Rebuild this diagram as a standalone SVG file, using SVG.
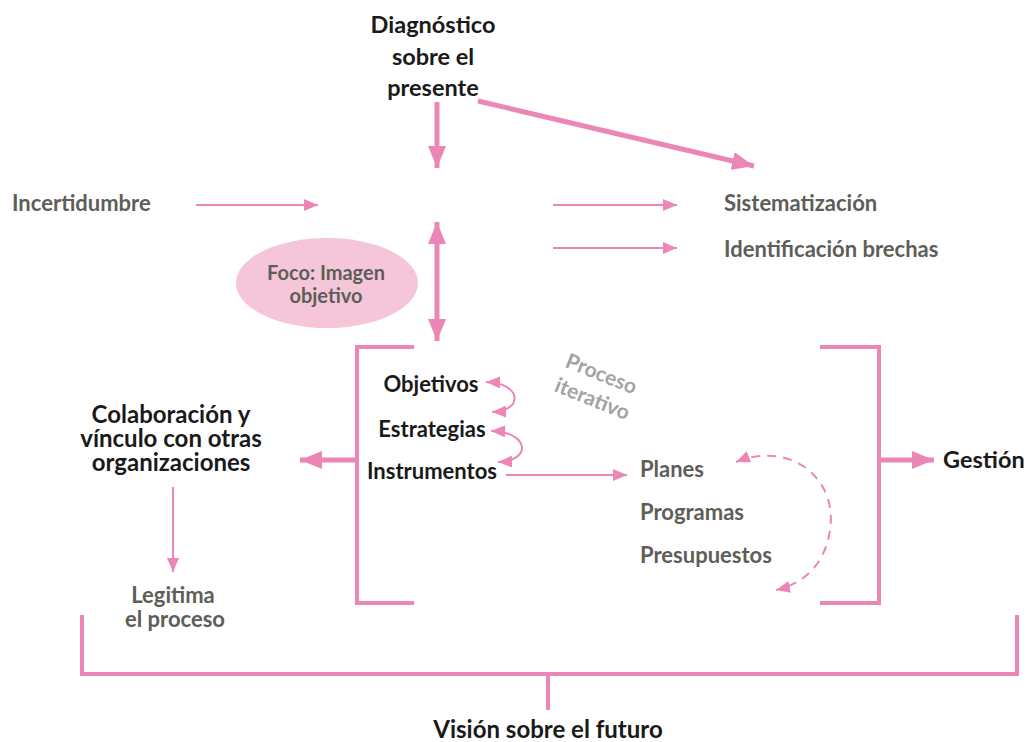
<svg xmlns="http://www.w3.org/2000/svg" width="1027" height="742" viewBox="0 0 1027 742">
  <style>
    text { font-family: Lato, "Liberation Sans", sans-serif; font-weight: bold; }
    .dark { fill: #1a1a1a; font-size: 24px; }
    .gray { fill: #5e5e58; font-size: 22px; }
    .light { fill: #a3a3a3; font-size: 21px; }
    .thin { stroke: #ec86b7; stroke-width: 2; fill: none; }
    .thick { stroke: #ec86b7; stroke-width: 5; fill: none; }
    .bracket { stroke: #ec86b7; stroke-width: 4; fill: none; }
    .dash { stroke: #ec86b7; stroke-width: 2; fill: none; stroke-dasharray: 9 7; }
  </style>
  <defs>
    <marker id="headThin" viewBox="0 0 14 12" refX="14" refY="6" markerWidth="14" markerHeight="12" markerUnits="userSpaceOnUse" orient="auto-start-reverse">
      <path d="M0,0 L14,6 L0,12 z" fill="#ec86b7"/>
    </marker>
    <marker id="headThick" viewBox="0 0 22 18" refX="22" refY="9" markerWidth="22" markerHeight="18" markerUnits="userSpaceOnUse" orient="auto-start-reverse">
      <path d="M0,0 L22,9 L0,18 z" fill="#ec86b7"/>
    </marker>
  </defs>

  <!-- connectors -->
  <g id="connectors">
    <line class="thick" x1="437" y1="102" x2="437" y2="168" marker-end="url(#headThick)"/>
    <line class="thick" x1="478" y1="101" x2="754" y2="166" marker-end="url(#headThick)"/>
    <line class="thin" x1="196" y1="205" x2="318" y2="205" marker-end="url(#headThin)"/>
    <line class="thin" x1="553" y1="205" x2="677" y2="205" marker-end="url(#headThin)"/>
    <line class="thin" x1="553" y1="248" x2="677" y2="248" marker-end="url(#headThin)"/>
    <line class="thick" x1="437" y1="222" x2="437" y2="341" marker-start="url(#headThick)" marker-end="url(#headThick)"/>
    <line class="thick" x1="357" y1="460" x2="300" y2="460" marker-end="url(#headThick)"/>
    <line class="thick" x1="879" y1="460" x2="934" y2="460" marker-end="url(#headThick)"/>
    <path class="thin" d="M486,382 C522,383 524,411 492,412" marker-start="url(#headThin)" marker-end="url(#headThin)"/>
    <path class="thin" d="M491,431 C530,432 532,461 498,462" marker-start="url(#headThin)" marker-end="url(#headThin)"/>
    <line class="thin" x1="506" y1="475" x2="627" y2="475" marker-end="url(#headThin)"/>
    <path class="dash" d="M736,462 C790,440 838,478 830,530 C825,565 803,584 776,590" marker-start="url(#headThin)" marker-end="url(#headThin)"/>
    <line class="thin" x1="173" y1="487" x2="173" y2="572" marker-end="url(#headThin)"/>
    <!-- brackets -->
    <path class="bracket" d="M414,347 H357 V603 H414"/>
    <path class="bracket" d="M820,347 H879 V603 H820"/>
    <path class="bracket" d="M82,615 V674 H1017 V615 M548,674 V710"/>
  </g>

  <g id="diagnostico">
    <text class="dark" x="433" y="33" text-anchor="middle" style="font-size:23.5px">Diagnóstico</text>
    <text class="dark" x="433" y="65" text-anchor="middle" style="font-size:23.5px">sobre el</text>
    <text class="dark" x="433" y="96" text-anchor="middle" style="font-size:23.5px">presente</text>
  </g>

  <g id="incertidumbre">
    <text class="gray" x="12" y="211">Incertidumbre</text>
  </g>

  <g id="sistematizacion">
    <text class="gray" x="724" y="211">Sistematización</text>
  </g>

  <g id="brechas">
    <text class="gray" x="724" y="257">Identificación brechas</text>
  </g>

  <g id="foco">
    <ellipse cx="327" cy="283" rx="91" ry="45" fill="#f5c6da"/>
    <text class="gray" x="326" y="280" text-anchor="middle" style="font-size:20px">Foco: Imagen</text>
    <text class="gray" x="326" y="303" text-anchor="middle" style="font-size:20px">objetivo</text>
  </g>

  <g id="objetivos">
    <text class="dark" x="431" y="392" text-anchor="middle" style="font-size:22px">Objetivos</text>
  </g>
  <g id="estrategias">
    <text class="dark" x="432" y="437" text-anchor="middle" style="font-size:22px">Estrategias</text>
  </g>
  <g id="instrumentos">
    <text class="dark" x="432" y="479" text-anchor="middle" style="font-size:22px">Instrumentos</text>
  </g>

  <g id="proceso-iterativo">
    <text class="light" x="601" y="381" text-anchor="middle" transform="rotate(22 601 375)">Proceso</text>
    <text class="light" x="592" y="406" text-anchor="middle" transform="rotate(22 592 400)">iterativo</text>
  </g>

  <g id="planes">
    <text class="gray" x="640" y="477">Planes</text>
  </g>
  <g id="programas">
    <text class="gray" x="640" y="520">Programas</text>
  </g>
  <g id="presupuestos">
    <text class="gray" x="640" y="563">Presupuestos</text>
  </g>

  <g id="gestion">
    <text class="dark" x="943" y="468" style="font-size:23.5px">Gestión</text>
  </g>

  <g id="colaboracion">
    <text class="dark" x="171" y="423" text-anchor="middle">Colaboración y</text>
    <text class="dark" x="171" y="447" text-anchor="middle">vínculo con otras</text>
    <text class="dark" x="171" y="471" text-anchor="middle">organizaciones</text>
  </g>

  <g id="legitima">
    <text class="gray" x="173" y="603" text-anchor="middle">Legitima</text>
    <text class="gray" x="175" y="627" text-anchor="middle">el proceso</text>
  </g>

  <g id="vision">
    <text class="dark" x="548" y="738" text-anchor="middle">Visión sobre el futuro</text>
  </g>
</svg>
